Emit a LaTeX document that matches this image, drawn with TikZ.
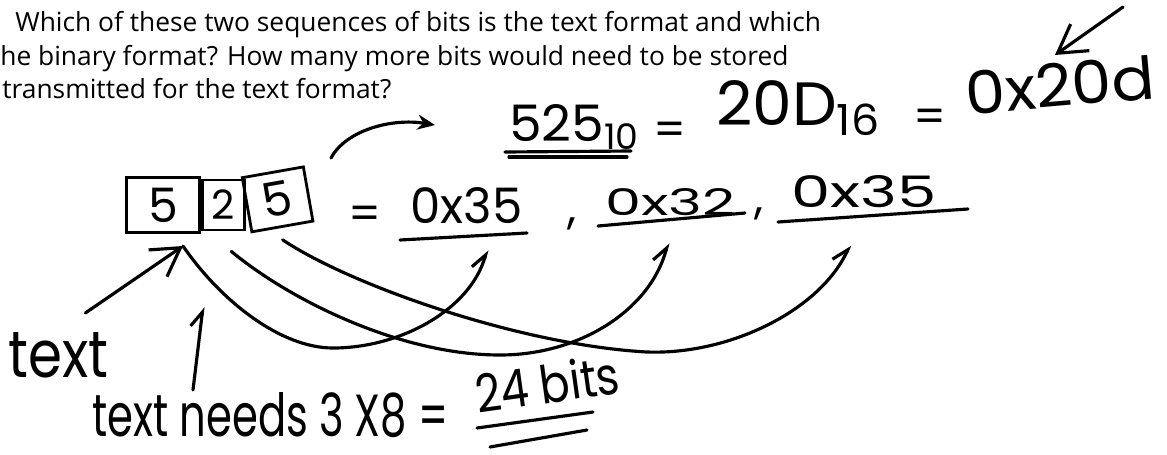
\documentclass[tikz,border=0pt]{standalone}
\usepackage{fontspec}
\usepackage{graphicx}
\usetikzlibrary{arrows.meta,positioning}
\setmainfont{Open Sans}
\newfontfamily\hand{Poppins}
\newlength\pxu
\setlength\pxu{0.02cm}
% fit handwriting into the box it takes in the scan
\newcommand{\fitbox}[3]{\resizebox{#1\pxu}{#2\pxu}{\hand #3}}

\begin{document}
\begin{tikzpicture}[x=0.02cm, y=-0.02cm,
  prt/.style={anchor=base west, inner sep=0pt, font=\fontsize{15}{18}\selectfont},
  hw/.style={anchor=north west, inner sep=0pt},
  sign/.style={inner sep=0pt, font=\hand\fontsize{26}{26}\selectfont},
  cell/.style={draw, line width=1.6pt, inner sep=0pt, font=\hand\fontsize{27}{27}\selectfont},
  pen/.style={line width=1.8pt, line cap=round, line join=round},
  arr/.style={pen, -{Straight Barb[length=5.5mm, width=6.5mm]}},
  hook/.style={pen, -{Straight Barb[left, length=3mm, width=4mm]}},
  tri/.style={pen, -{Stealth[length=3.5mm, width=3mm]}}]
\useasboundingbox (0,0) rectangle (1167,454);
\fill[white] (0,0) rectangle (1167,454);

% printed question
\node[prt] (q1) at (15,31) {Which of these two sequences of bits is the text format and which};
\node[prt] (q2) at (0,65) {he binary format? How many more bits would need to be stored};
\node[prt] (q3) at (2,98) {transmitted for the text format?};

% 525 in decimal and hex
\node[hw] (dec) at (509,104) {\fitbox{132}{37}{525\textsubscript{10}}};
\node[sign] (eq1) at (670,134) {=};
\node[hw] (hexa) at (716,80) {\fitbox{166}{45}{20D\textsubscript{16}}};
\node[sign] (eq2) at (930,121) {=};
\node[hw, anchor=south west, rotate=5] (hexb) at (967,116) {\fitbox{190}{44}{0x20d}};
\draw[pen] (505,152) -- (631,151);
\draw[pen] (509,157) -- (627,157);

% the three characters
\node[cell, minimum width=1.46cm, minimum height=1.1cm] (box1) at (163,205) {5};
\node[cell, minimum width=0.84cm, minimum height=1cm, font=\hand\fontsize{23}{23}\selectfont,
      right=0pt of box1] (box2) {2};
\node[cell, minimum width=1.24cm, minimum height=1.1cm, rotate=10, right=0pt of box2] (box3) {5};

% their ascii codes
\node[sign] (eq3) at (365,218) {=};
\node[hw] (code1) at (410,187) {\fitbox{112}{36}{0x35}};
\node[sign] (cm1) at (572,224) {,};
\node[hw] (code2) at (605,188) {\fitbox{130}{27}{0x32}};
\node[sign] (cm2) at (759,214) {,};
\node[hw] (code3) at (791,175) {\fitbox{145}{32}{0x35}};
\draw[pen] (400,240) -- (527,233);
\draw[pen] (598,226) -- (745,213);
\draw[pen] (778,222) -- (968,209);

% notes
\node[hw] (lbl) at (8,332) {\fitbox{100}{45}{text}};
\node[hw] (need) at (92,392) {\fitbox{356}{44}{text needs 3 X8 =}};
\node[hw, anchor=south west, rotate=8] (bits) at (478,414) {\fitbox{145}{40}{24 bits}};
\draw[pen] (477,428) -- (593,412);
\draw[pen] (490,447) -- (587,430);

% arrows
\coordinate (tipT) at (183,246);
\coordinate (tipN) at (203,307);
\coordinate (tipA) at (487,250);
\coordinate (tipB) at (668,243);
\coordinate (tipC) at (850,245);
\coordinate (tail) at (331,158);
\coordinate (tipD) at (435,125);
\coordinate (tailE) at (1123,7);
\coordinate (tipE) at (1055,55);
\draw[arr] ([shift={(27,-19)}]lbl.north) -- (tipT);
\draw[hook] ([shift={(101,-2)}]need.north west) -- (tipN);
\draw[hook] (tipT) .. controls (220,300) and (280,348) .. (333,348)
  .. controls (400,348) and (470,310) .. (tipA);
\draw[hook] ([shift={(8,20)}]box2.south) .. controls (290,300) and (400,355) .. (500,355)
  .. controls (580,355) and (650,310) .. (tipB);
\draw[hook] ([shift={(0,12)}]box3.south) .. controls (350,285) and (520,345) .. (647,352)
  .. controls (730,355) and (820,310) .. (tipC);
\draw[tri] (tail) .. controls (346,130) and (392,118) .. (tipD);
\draw[arr] (tailE) -- (tipE);
\end{tikzpicture}
\end{document}
